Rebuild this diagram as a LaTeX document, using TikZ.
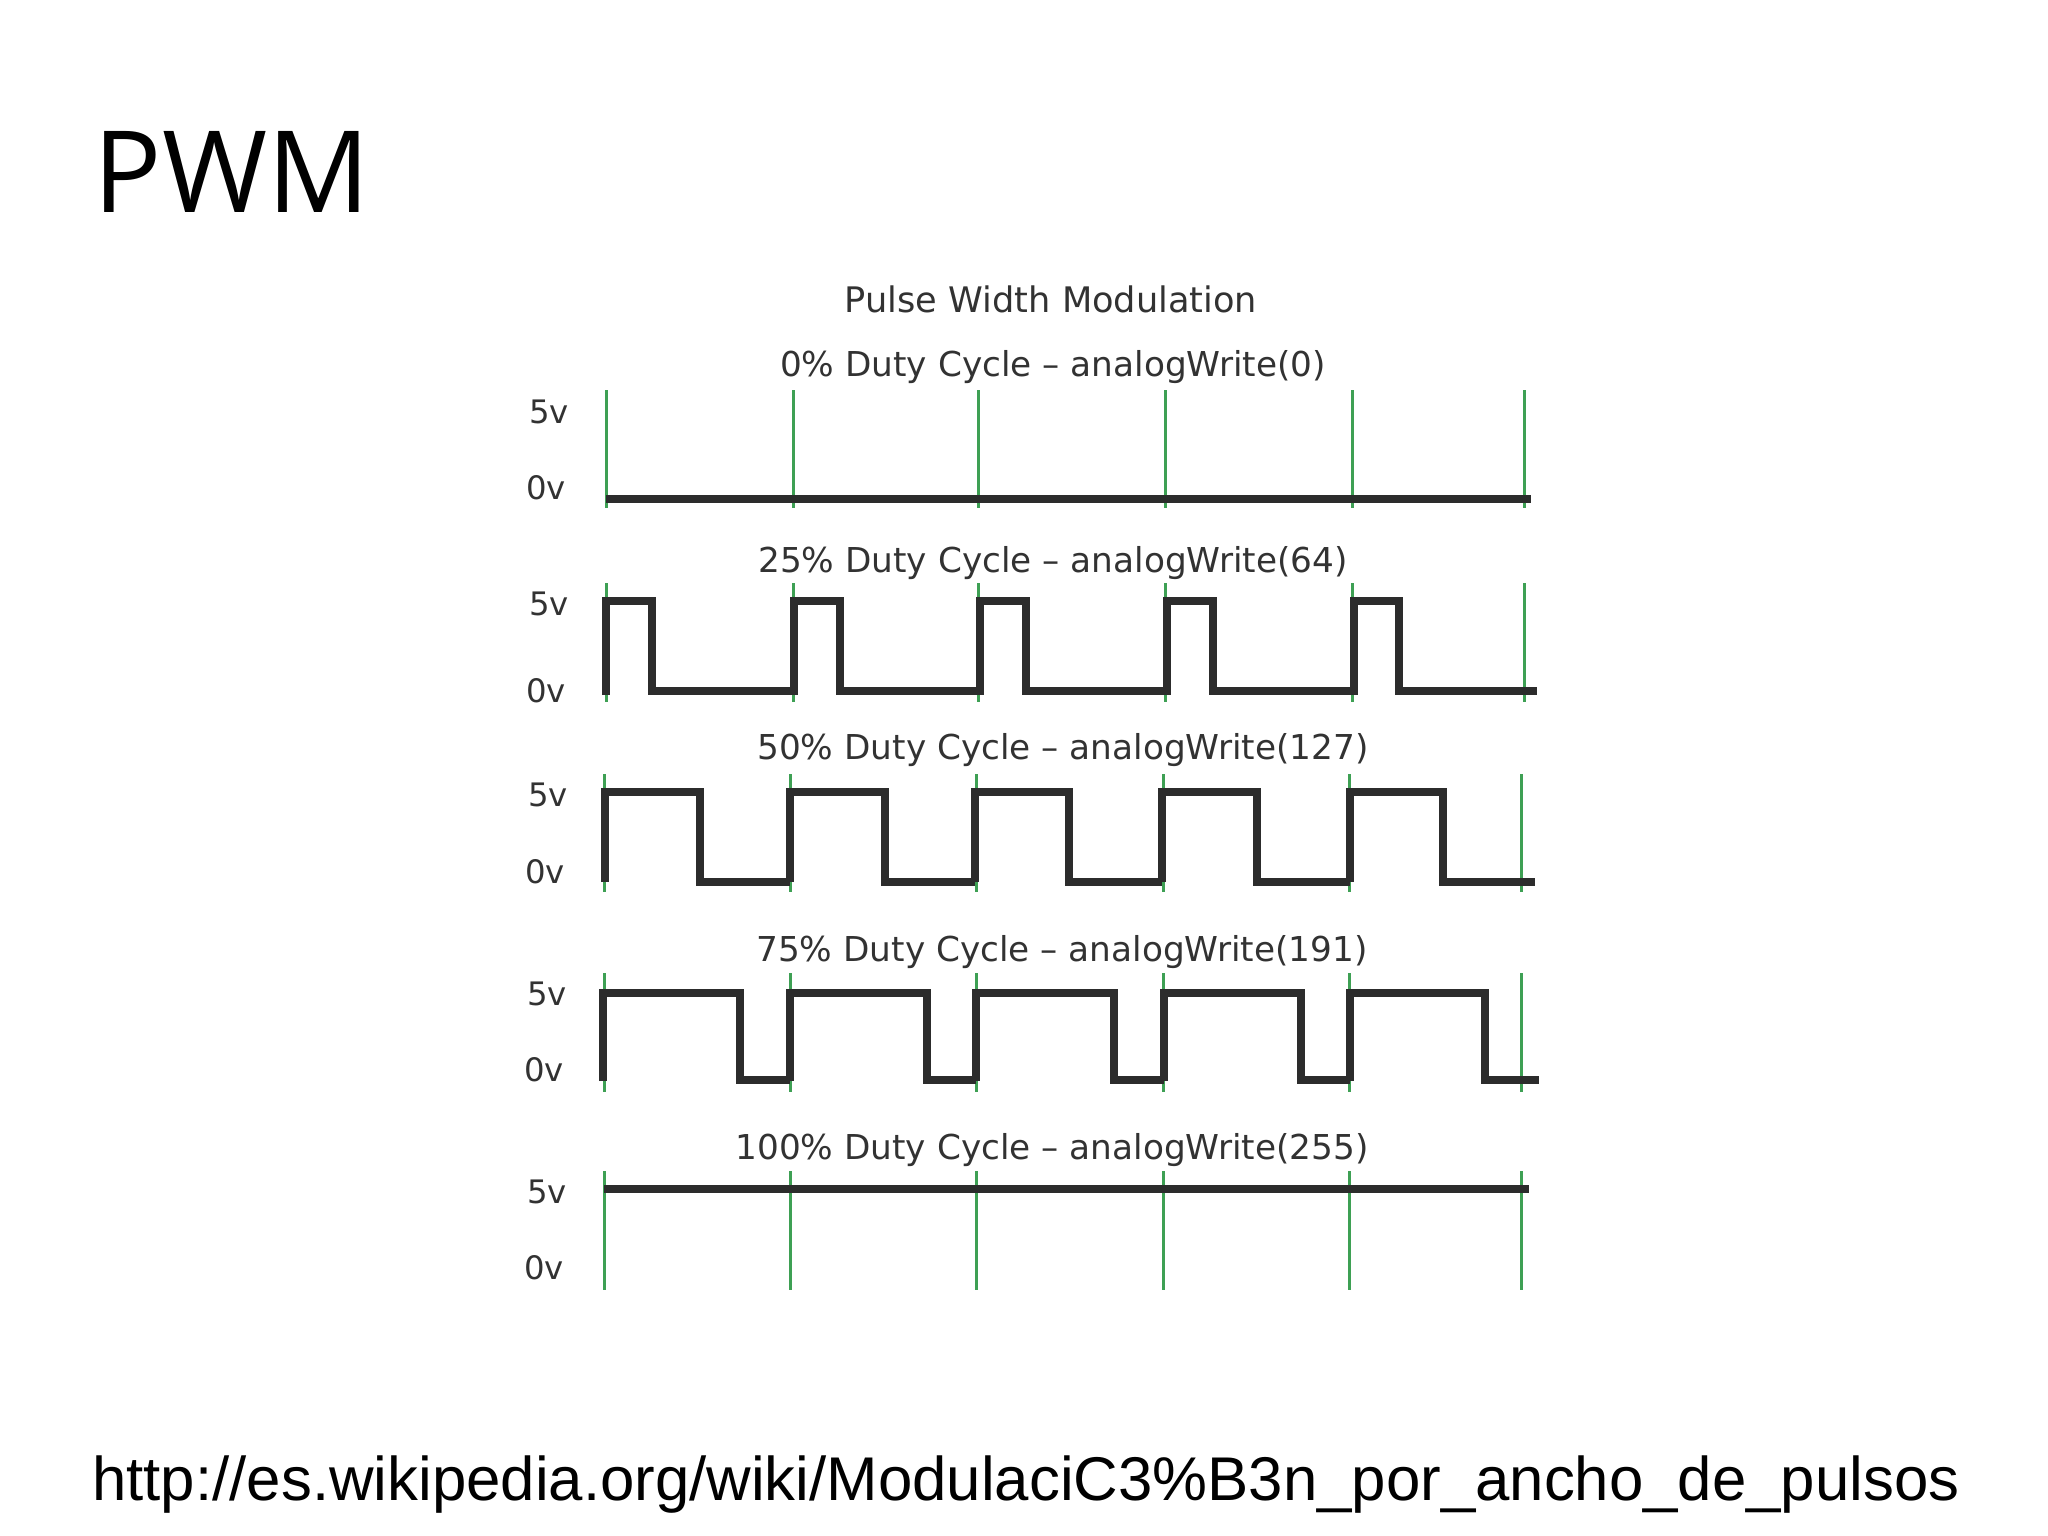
\documentclass[tikz,border=0pt]{standalone}
\usepackage{fontspec}
\setmainfont{DejaVu Sans}
\newfontfamily\headfont{Open Sans}
\newfontfamily\linkfont{Liberation Sans}
\usetikzlibrary{positioning}
\definecolor{tickgreen}{RGB}{62,160,84}
\definecolor{wavedark}{RGB}{44,44,44}
\definecolor{labelgrey}{RGB}{50,50,50}
\tikzset{
  tick/.style={line width=0.85pt, tickgreen},
  wave/.style={line width=2.4pt, wavedark, line join=miter},
  caption/.style={inner sep=0pt, text=labelgrey, font=\fontsize{9.75}{11}\selectfont},
  volt/.style={inner sep=0pt, text=labelgrey, font=\fontsize{9.2}{10}\selectfont}
}

\begin{document}
\begin{tikzpicture}[x=0.01cm,y=-0.01cm]
  \useasboundingbox (0,0) rectangle (2048,1535);

  % Judul halaman dan tautan
  \node[inner sep=0pt, font=\headfont\fontsize{32.3}{38}\selectfont] (title) at (232,172) {PWM};
  \node[inner sep=0pt, font=\linkfont\fontsize{17.56}{20}\selectfont] (link) at (1026,1485) {http://es.wikipedia.org/wiki/ModulaciC3\%B3n\_por\_ancho\_de\_pulsos};
  \node[caption, font=\fontsize{10}{11}\selectfont] (head) at (1051,299) {Pulse Width Modulation};

  % Judul tiap grafik
  \node[caption] (c0) at (1053,367) {0\% Duty Cycle -- analogWrite(0)};
  \node[caption] (c25) at (1053,563) {25\% Duty Cycle -- analogWrite(64)};
  \node[caption] (c50) at (1063,750) {50\% Duty Cycle -- analogWrite(127)};
  \node[caption] (c75) at (1062,952) {75\% Duty Cycle -- analogWrite(191)};
  \node[caption] (c100) at (1052,1150) {100\% Duty Cycle -- analogWrite(255)};

  % Label tegangan
  \foreach \nm/\xa/\ya/\yb in {a/549/412/488,b/549/604/691,c/548/795/872,d/547/994/1070,e/547/1192/1268} {
    \node[volt] (hi\nm) at (\xa,\ya) {5v};
    \node[volt] (lo\nm) at (\xa-3,\yb) {0v};
  }

  % Garis hijau
  \foreach \x in {606,793,978,1165,1352,1524} {
    \draw[tick] (\x,390) -- (\x,508);
    \draw[tick] (\x,583) -- (\x,702);
  }
  \foreach \x in {604,790,976,1163,1349,1521} {
    \draw[tick] (\x,774) -- (\x,892);
    \draw[tick] (\x,973) -- (\x,1092);
    \draw[tick] (\x,1171) -- (\x,1290);
  }

  % Sinyal 0% dan 100%
  \draw[wave] (606,499) -- (1531,499);
  \draw[wave] (604,1189) -- (1529,1189);

  % Sinyal 25%, 50%, 75%
  \foreach \r/\f/\n in {606/652/794,794/840/980,980/1026/1167,1167/1213/1354,1354/1399/1537} {
    \draw[wave] (\r,695) -- (\r,601) -- (\f,601) -- (\f,691) -- (\n,691);
  }
  \foreach \r/\f/\n in {605/700/790,790/885/975,975/1069/1162,1162/1257/1350,1350/1443/1535} {
    \draw[wave] (\r,882) -- (\r,792) -- (\f,792) -- (\f,882) -- (\n,882);
  }
  \foreach \r/\f/\n in {603/740/790,790/927/976,976/1114/1164,1164/1301/1350,1350/1485/1539} {
    \draw[wave] (\r,1081) -- (\r,993) -- (\f,993) -- (\f,1080) -- (\n,1080);
  }
\end{tikzpicture}
\end{document}
